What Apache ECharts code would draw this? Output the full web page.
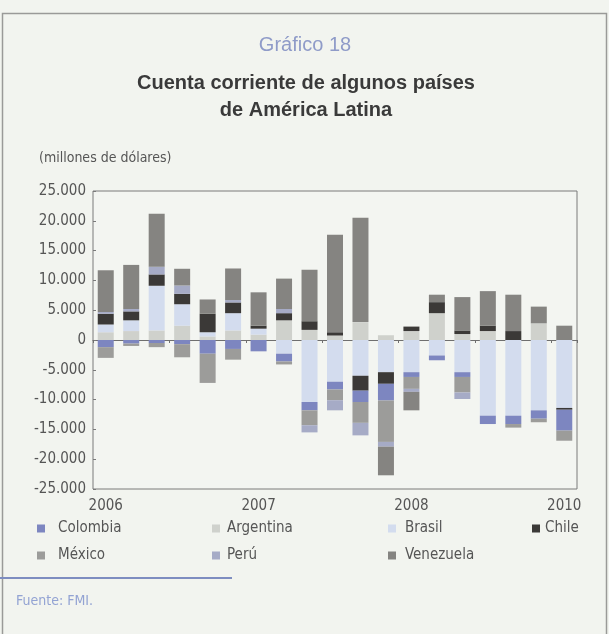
<!DOCTYPE html>
<html>
<head>
<meta charset="utf-8">
<script src="https://cdn.jsdelivr.net/npm/echarts@6/dist/echarts.min.js"></script>
<style>
  html, body { margin: 0; padding: 0; background: #f2f4ef; }
  #chart { width: 609px; height: 634px; }
</style>
</head>
<body>
<div id="chart"></div>
<script>
// Quarterly current account balances, millions of US dollars
const quarters = [
  '2006 T1', '2006 T2', '2006 T3', '2006 T4',
  '2007 T1', '2007 T2', '2007 T3', '2007 T4',
  '2008 T1', '2008 T2', '2008 T3', '2008 T4',
  '2009 T1', '2009 T2', '2009 T3', '2009 T4',
  '2010 T1', '2010 T2', '2010 T3'
];
const yearTicks = ['2006', '2007', '2008', '2010'];
const yearTickIndex = [0, 6, 12, 18];
const yTicks = [-25000, -20000, -15000, -10000, -5000, 0, 5000, 10000, 15000, 20000, 25000];

const argentina = [1300, 1500, 1600, 2400, 600, 1600, 900, 3300, 1700, 750, 3000, 800, 1500, 4500, 1000, 1500, 0, 2800, 0];
const brasil    = [1300, 1800, 7500, 3600, 700, 2900, 1000, -2300, -10400, -7000, -6000, -5400, -5400, -2600, -5400, -12700, -12700, -11800, -11400];
const chile     = [1800, 1500, 1900, 1750, 3100, 1800, 500, 1200, 1450, 550, -2500, -1950, 750, 1850, 600, 900, 1500, 0, -300];
const colombia  = [-1200, -600, -500, -700, -2300, -1500, -1900, -1300, -1400, -1300, -1900, -2800, -800, -800, -800, -1400, -1400, -1400, -3500];
const mexico    = [-1800, -400, -700, -2200, -4900, -1800, 0, -500, -2500, -1800, -3500, -6950, -2000, 0, -2600, 0, -600, -600, -1700];
const peru      = [300, 400, 1300, 1400, 0, 400, 0, 700, -1200, -1700, -2100, -800, -500, 0, -1100, 0, 0, 0, 0];
const venezuela = [7000, 7400, 8900, 2800, 2400, 5300, 5600, 5100, 8650, 16350, 17500, -4800, -3100, 1250, 5600, 5800, 6100, 2800, 2400];

const legendOrder = ['Colombia', 'Argentina', 'Brasil', 'Chile', 'México', 'Perú', 'Venezuela'];

const FONT = "'DejaVu Sans Condensed', 'Liberation Sans', Arial, sans-serif";
const TITLE_FONT = "'Liberation Sans', Arial, sans-serif";

const colors = {
  'Colombia': '#7d86c0',
  'Argentina': '#cfd1cc',
  'Brasil': '#d3dcee',
  'Chile': '#3b3937',
  'México': '#9c9c9a',
  'Perú': '#a6abc6',
  'Venezuela': '#858481'
};

// stacking order outward from zero
const stackSeries = [
  ['Argentina', argentina],
  ['Brasil', brasil],
  ['Chile', chile],
  ['Colombia', colombia],
  ['México', mexico],
  ['Perú', peru],
  ['Venezuela', venezuela]
];

function thousands(v) {
  const s = String(Math.abs(v)).replace(/\B(?=(\d{3})+(?!\d))/g, '.');
  return v < 0 ? '-' + s : s;
}

const legendPos = {
  'Colombia':  { left: 37,  top: 521, gap: 13 },
  'Argentina': { left: 212, top: 521, gap: 7 },
  'Brasil':    { left: 388, top: 521, gap: 9 },
  'Chile':     { left: 532, top: 521, gap: 5 },
  'México':    { left: 37,  top: 548, gap: 13 },
  'Perú':      { left: 212, top: 548, gap: 7 },
  'Venezuela': { left: 388, top: 548, gap: 9 }
};

const chart = echarts.init(document.getElementById('chart'), null, { renderer: 'canvas' });

chart.setOption({
  backgroundColor: '#f2f4ef',
  animation: false,
  textStyle: { fontFamily: FONT },
  grid: {
    left: 93, top: 191, width: 484, height: 298,
    show: true, borderColor: '#7a7a7a', borderWidth: 1,
    backgroundColor: '#f3f5f1'
  },
  legend: legendOrder.map(name => ({
    data: [name],
    left: legendPos[name].left,
    top: legendPos[name].top,
    padding: 0,
    itemGap: 0,
    itemWidth: 8,
    itemHeight: 8,
    icon: 'rect',
    selectedMode: false,
    textStyle: {
      fontFamily: FONT, fontSize: 15, color: '#555',
      padding: [0, 0, 0, legendPos[name].gap - 5]
    }
  })),
  xAxis: [
    {
      type: 'category',
      data: quarters,
      position: 'bottom',
      axisLine: { show: false, onZero: false },
      axisTick: { show: false },
      axisLabel: {
        interval: 0,
        margin: 10,
        fontSize: 15,
        color: '#555',
        fontFamily: FONT,
        formatter: (val, idx) => {
          const k = yearTickIndex.indexOf(idx);
          return k >= 0 ? yearTicks[k] : '';
        }
      },
      splitLine: { show: false }
    },
    {
      type: 'category',
      data: quarters,
      position: 'bottom',
      axisLine: { show: true, onZero: true, lineStyle: { color: '#6f6f6f', width: 1.2 } },
      axisTick: { show: true, length: 3, lineStyle: { color: '#6f6f6f' } },
      axisLabel: { show: false },
      splitLine: { show: false }
    }
  ],
  yAxis: {
    type: 'value',
    min: yTicks[0],
    max: yTicks[yTicks.length - 1],
    interval: 5000,
    axisLine: { show: false },
    axisTick: { show: true, inside: true, length: 3, lineStyle: { color: '#7a7a7a' } },
    splitLine: { show: false },
    axisLabel: {
      margin: 7,
      fontSize: 15,
      color: '#555',
      fontFamily: FONT,
      formatter: v => thousands(v)
    }
  },
  series: stackSeries.map(([name, values]) => ({
    name: name,
    type: 'bar',
    stack: 'cuenta',
    xAxisIndex: 0,
    barWidth: 16,
    itemStyle: { color: colors[name] },
    emphasis: { disabled: true },
    data: values
  })),
  graphic: [
    {
      type: 'rect', silent: true,
      shape: { x: 2.5, y: 13.5, width: 604, height: 640 },
      style: { fill: 'none', stroke: '#9a9a98', lineWidth: 1.5 }
    },
    {
      type: 'text', silent: true,
      style: { x: 305, y: 45, text: 'Gráfico 18', textAlign: 'center', textVerticalAlign: 'middle',
               font: '20px ' + TITLE_FONT, fill: '#8f9bc8' }
    },
    {
      type: 'text', silent: true,
      style: { x: 306, y: 83, text: 'Cuenta corriente de algunos países', textAlign: 'center', textVerticalAlign: 'middle',
               font: 'bold 20px ' + TITLE_FONT, fill: '#3a3a3a' }
    },
    {
      type: 'text', silent: true,
      style: { x: 306, y: 110, text: 'de América Latina', textAlign: 'center', textVerticalAlign: 'middle',
               font: 'bold 20px ' + TITLE_FONT, fill: '#3a3a3a' }
    },
    {
      type: 'text', silent: true,
      style: { x: 39, y: 158, text: '(millones de dólares)', textAlign: 'left', textVerticalAlign: 'middle',
               font: '14px ' + FONT, fill: '#555' }
    },
    {
      type: 'line', silent: true,
      shape: { x1: 0, y1: 578, x2: 232, y2: 578 },
      style: { stroke: '#7e8dc0', lineWidth: 2 }
    },
    {
      type: 'text', silent: true,
      style: { x: 16, y: 601, text: 'Fuente: FMI.', textAlign: 'left', textVerticalAlign: 'middle',
               font: '14px ' + FONT, fill: '#93a3d3' }
    }
  ]
});
</script>
</body>
</html>
